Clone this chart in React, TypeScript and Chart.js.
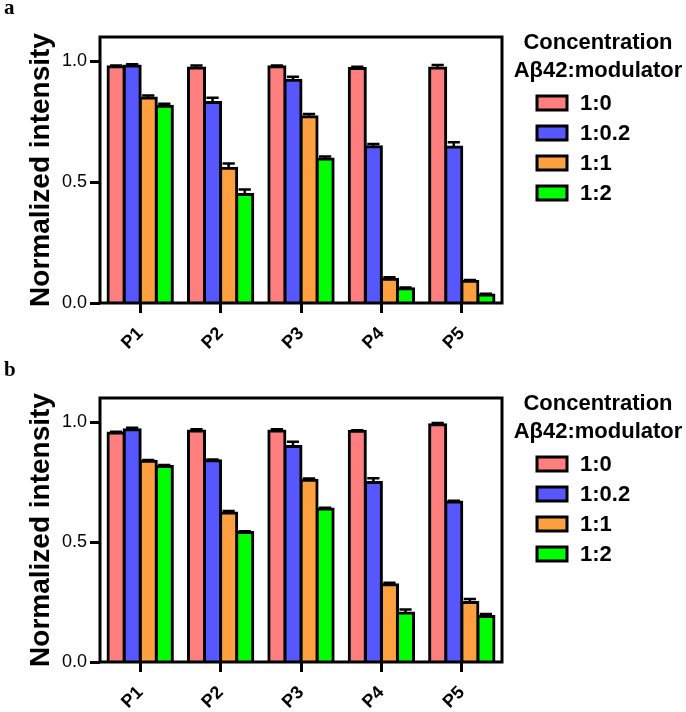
import React, { useEffect, useRef } from "react";
import { Chart, registerables } from "chart.js";

Chart.register(...registerables);

const FONT = '"Liberation Sans", Arial, sans-serif';

const categories = ["P1", "P2", "P3", "P4", "P5"];
const seriesLabels = ["1:0", "1:0.2", "1:1", "1:2"];
const seriesColors = ["#FF7F7F", "#5757FF", "#FFA040", "#00FF00"];
const legendTitle = ["Concentration", "Aβ42:modulator"];
const yTickValues = [0, 0.5, 1.0];
const yTitle = "Normalized intensity";

// Panel a values
const aRatio10 = [0.977, 0.972, 0.977, 0.97, 0.972];
const aRatio102 = [0.98, 0.829, 0.921, 0.646, 0.645];
const aRatio11 = [0.848, 0.557, 0.77, 0.098, 0.09];
const aRatio12 = [0.814, 0.449, 0.596, 0.059, 0.033];
// Panel a errors
const aErr10 = [0.005, 0.01, 0.005, 0.007, 0.012];
const aErr102 = [0.007, 0.02, 0.015, 0.012, 0.02];
const aErr11 = [0.01, 0.02, 0.012, 0.008, 0.005];
const aErr12 = [0.01, 0.02, 0.01, 0.005, 0.005];

// Panel b values
const bRatio10 = [0.954, 0.962, 0.962, 0.961, 0.989];
const bRatio102 = [0.968, 0.839, 0.898, 0.748, 0.667];
const bRatio11 = [0.836, 0.621, 0.757, 0.322, 0.248];
const bRatio12 = [0.815, 0.54, 0.638, 0.204, 0.19];
// Panel b errors
const bErr10 = [0.005, 0.008, 0.008, 0.005, 0.007];
const bErr102 = [0.008, 0.005, 0.02, 0.018, 0.005];
const bErr11 = [0.006, 0.008, 0.008, 0.008, 0.015];
const bErr12 = [0.006, 0.005, 0.005, 0.015, 0.01];

type PanelProps = {
  top: number;
  height: number;
  padTop: number;
  xAxisHeight: number;
  values: number[][];
  errors: number[][];
};

function Panel({ top, height, padTop, xAxisHeight, values, errors }: PanelProps) {
  const ref = useRef<HTMLCanvasElement>(null);

  useEffect(() => {
    const errorPlugin = {
      id: "errorBars",
      afterDatasetsDraw(chart: any) {
        const { ctx } = chart;
        const ys = chart.scales.y;
        ctx.save();
        ctx.strokeStyle = "#000";
        ctx.lineWidth = 2.5;
        chart.data.datasets.forEach((ds: any, i: number) => {
          const meta = chart.getDatasetMeta(i);
          meta.data.forEach((bar: any, j: number) => {
            const v = ds.data[j];
            const e = errors[i][j];
            const yTop = ys.getPixelForValue(v + e);
            const hw = bar.width * 0.38;
            ctx.beginPath();
            ctx.moveTo(bar.x, bar.y);
            ctx.lineTo(bar.x, yTop);
            ctx.moveTo(bar.x - hw, yTop);
            ctx.lineTo(bar.x + hw, yTop);
            ctx.stroke();
          });
        });
        // frame
        const ca = chart.chartArea;
        ctx.lineWidth = 3;
        ctx.strokeRect(ca.left, ca.top, ca.right - ca.left, ca.bottom - ca.top);
        ctx.restore();
      },
    };

    const legendPlugin = {
      id: "customLegend",
      afterDraw(chart: any) {
        const { ctx, chartArea } = chart;
        const t = chartArea.top;
        const r = chartArea.right;
        ctx.save();
        ctx.fillStyle = "#000";
        ctx.font = `bold 22px ${FONT}`;
        ctx.textAlign = "center";
        ctx.textBaseline = "middle";
        legendTitle.forEach((line, k) => {
          ctx.fillText(line, r + 96, t + 6 + k * 28);
        });
        ctx.textAlign = "left";
        chart.data.datasets.forEach((ds: any, i: number) => {
          const cy = t + 66 + i * 30;
          ctx.fillStyle = ds.backgroundColor;
          ctx.fillRect(r + 35, cy - 7, 30, 14);
          ctx.strokeStyle = "#000";
          ctx.lineWidth = 3;
          ctx.strokeRect(r + 35, cy - 7, 30, 14);
          ctx.fillStyle = "#000";
          ctx.fillText(ds.label, r + 78, cy + 1);
        });
        ctx.restore();
      },
    };

    const chart = new Chart(ref.current as HTMLCanvasElement, {
      type: "bar",
      data: {
        labels: categories,
        datasets: seriesLabels.map((label, i) => ({
          label,
          data: values[i],
          backgroundColor: seriesColors[i],
          borderColor: "#000",
          borderWidth: 3,
          inflateAmount: 1.5,
          categoryPercentage: 0.8,
          barPercentage: 1.0,
        })),
      },
      options: {
        animation: false,
        responsive: false,
        devicePixelRatio: 1,
        layout: { padding: { top: padTop, right: 184, left: 0, bottom: 0 } },
        plugins: {
          legend: { display: false },
          tooltip: { enabled: false },
        },
        scales: {
          x: {
            offset: true,
            grid: {
              display: true,
              drawOnChartArea: false,
              drawTicks: true,
              tickLength: 10,
              tickWidth: 3,
              tickColor: "#000",
              offset: false,
            },
            border: { display: false },
            ticks: {
              minRotation: 45,
              maxRotation: 45,
              padding: 10,
              color: "#000",
              font: { family: FONT, size: 18, weight: "bold" },
            },
            afterFit: (s: any) => {
              s.height = xAxisHeight;
            },
          },
          y: {
            min: 0,
            max: 1.1,
            afterBuildTicks: (s: any) => {
              s.ticks = yTickValues.map((v) => ({ value: v }));
            },
            grid: {
              display: true,
              drawOnChartArea: false,
              drawTicks: true,
              tickLength: 10,
              tickWidth: 3,
              tickColor: "#000",
            },
            border: { display: false },
            ticks: {
              padding: 3,
              color: "#000",
              font: { family: FONT, size: 18 },
              callback: (v: any) => Number(v).toFixed(1),
            },
            title: {
              display: true,
              text: yTitle,
              color: "#000",
              font: { family: FONT, size: 28, weight: "bold" },
              padding: { top: 24, bottom: 0 },
            },
            afterFit: (s: any) => {
              s.width = 100;
            },
          },
        },
      } as any,
      plugins: [errorPlugin, legendPlugin],
    });
    return () => chart.destroy();
  }, []);

  return (
    <canvas
      ref={ref}
      width={686}
      height={height}
      style={{ position: "absolute", left: 0, top, width: 686, height }}
    />
  );
}

export default function App() {
  return (
    <div
      style={{
        position: "fixed",
        left: 0,
        top: 0,
        width: 686,
        height: 712,
        background: "#fff",
        overflow: "hidden",
      }}
    >
      <Panel
        top={0}
        height={350}
        padTop={37}
        xAxisHeight={47}
        values={[aRatio10, aRatio102, aRatio11, aRatio12]}
        errors={[aErr10, aErr102, aErr11, aErr12]}
      />
      <Panel
        top={350}
        height={362}
        padTop={48}
        xAxisHeight={50}
        values={[bRatio10, bRatio102, bRatio11, bRatio12]}
        errors={[bErr10, bErr102, bErr11, bErr12]}
      />
      <div
        style={{
          position: "absolute",
          left: 4,
          top: -3,
          font: 'bold 21px "Liberation Serif", serif',
          lineHeight: "21px",
        }}
      >
        a
      </div>
      <div
        style={{
          position: "absolute",
          left: 4,
          top: 359,
          font: 'bold 21px "Liberation Serif", serif',
          lineHeight: "21px",
        }}
      >
        b
      </div>
    </div>
  );
}
